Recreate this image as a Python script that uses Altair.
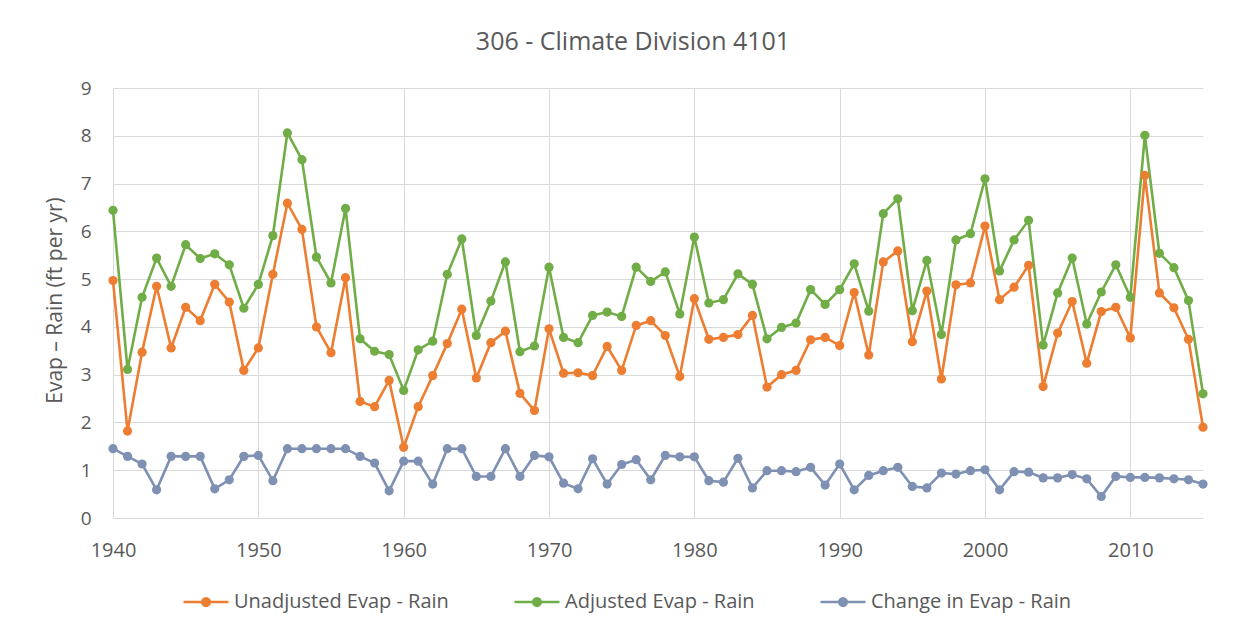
import altair as alt
import pandas as pd

years = list(range(1940, 2016))

unadjusted = [4.97, 1.82, 3.47, 4.85, 3.56, 4.41, 4.13, 4.89, 4.52, 3.09,
              3.56, 5.10, 6.59, 6.04, 4.00, 3.46, 5.03, 2.44, 2.33, 2.88,
              1.48, 2.33, 2.98, 3.65, 4.37, 2.93, 3.67, 3.91, 2.61, 2.25,
              3.96, 3.03, 3.04, 2.98, 3.59, 3.09, 4.03, 4.13, 3.82, 2.96,
              4.59, 3.74, 3.78, 3.84, 4.24, 2.74, 3.00, 3.09, 3.73, 3.78,
              3.61, 4.72, 3.41, 5.36, 5.59, 3.69, 4.75, 2.91, 4.88, 4.92,
              6.11, 4.57, 4.83, 5.29, 2.75, 3.87, 4.53, 3.24, 4.32, 4.41,
              3.77, 7.17, 4.71, 4.40, 3.74, 1.90]

adjusted = [6.44, 3.11, 4.62, 5.44, 4.85, 5.72, 5.43, 5.53, 5.30, 4.39,
            4.89, 5.91, 8.06, 7.50, 5.46, 4.92, 6.48, 3.75, 3.49, 3.42,
            2.67, 3.52, 3.70, 5.10, 5.84, 3.82, 4.54, 5.36, 3.48, 3.60,
            5.25, 3.78, 3.67, 4.24, 4.31, 4.22, 5.25, 4.95, 5.15, 4.27,
            5.88, 4.50, 4.57, 5.11, 4.89, 3.75, 3.99, 4.08, 4.78, 4.47,
            4.78, 5.32, 4.33, 6.37, 6.68, 4.34, 5.39, 3.84, 5.82, 5.95,
            7.10, 5.17, 5.82, 6.23, 3.62, 4.71, 5.44, 4.06, 4.73, 5.30,
            4.62, 8.01, 5.54, 5.24, 4.55, 2.60]

change = [1.45, 1.29, 1.13, 0.59, 1.29, 1.29, 1.29, 0.61, 0.80, 1.29,
          1.31, 0.78, 1.45, 1.45, 1.45, 1.45, 1.45, 1.29, 1.15, 0.57,
          1.19, 1.19, 0.71, 1.45, 1.45, 0.87, 0.87, 1.45, 0.87, 1.31,
          1.28, 0.73, 0.61, 1.24, 0.71, 1.12, 1.22, 0.80, 1.31, 1.28,
          1.28, 0.78, 0.75, 1.25, 0.63, 0.99, 0.99, 0.97, 1.06, 0.69,
          1.13, 0.59, 0.89, 0.99, 1.06, 0.66, 0.63, 0.94, 0.92, 0.99,
          1.01, 0.59, 0.97, 0.96, 0.84, 0.84, 0.91, 0.82, 0.45, 0.87,
          0.85, 0.85, 0.84, 0.82, 0.80, 0.71]

series_names = ["Unadjusted Evap - Rain", "Adjusted Evap - Rain", "Change in Evap - Rain"]
series_colors = ["#ED7D31", "#70AD47", "#7F91B3"]
x_ticks = [1940, 1950, 1960, 1970, 1980, 1990, 2000, 2010]
y_ticks = [0, 1, 2, 3, 4, 5, 6, 7, 8, 9]

rows = []
for name, vals in zip(series_names, [unadjusted, adjusted, change]):
    for yr, v in zip(years, vals):
        rows.append({"Year": yr, "Series": name, "Value": v})
df = pd.DataFrame(rows)

FONT = "Open Sans"
GREY = "#595959"

color_scale = alt.Scale(domain=series_names, range=series_colors)

x_enc = alt.X("Year:Q",
              scale=alt.Scale(domain=[1940, 2015], nice=False, zero=False),
              axis=alt.Axis(values=x_ticks, format="d", title=None, grid=True,
                            domain=False, ticks=False, labelPadding=22,
                            labelFontSize=20, labelColor=GREY, labelFont=FONT,
                            gridColor="#D9D9D9", labelFlush=False))
y_enc = alt.Y("Value:Q",
              scale=alt.Scale(domain=[0, 9], nice=False),
              axis=alt.Axis(values=y_ticks, title="Evap \u2013 Rain (ft per yr)",
                            domain=False, ticks=False, labelPadding=22,
                            labelFontSize=19, labelColor=GREY, labelFont=FONT,
                            titleFontSize=21, titleColor=GREY, titleFont=FONT,
                            titleFontWeight="normal",
                            titleX=-48, titleY=212, titleAngle=-90,
                            titleAlign="center", titleBaseline="bottom",
                            gridColor="#D9D9D9"))

# legend glyph: a short line with a solid dot (concentric rings fill the dot)
legend_symbol = ("M-1,0L1,0"
                 "M-0.17,0A0.17,0.17,0,1,1,0.17,0A0.17,0.17,0,1,1,-0.17,0Z"
                 "M-0.07,0A0.07,0.07,0,1,1,0.07,0A0.07,0.07,0,1,1,-0.07,0Z")

legend = alt.Legend(title=None, orient="none", direction="horizontal",
                    legendX=69, legendY=490,
                    symbolType=legend_symbol, symbolSize=2025,
                    symbolStrokeWidth=2.6,
                    labelFontSize=20, labelColor=GREY, labelFont=FONT,
                    labelLimit=500, labelOffset=4, columnPadding=60)

lines = alt.Chart(df).mark_line(strokeWidth=2.6).encode(
    x=x_enc, y=y_enc,
    color=alt.Color("Series:N", scale=color_scale, legend=legend),
    order=alt.Order("Year:Q"),
)

points = alt.Chart(df).mark_circle(size=85, opacity=1).encode(
    x=x_enc, y=y_enc,
    color=alt.Color("Series:N", scale=color_scale, legend=legend),
)

chart = (lines + points).properties(
    width=1090, height=430,
    title=alt.TitleParams("306 - Climate Division 4101", fontSize=25, color=GREY,
                          font=FONT, fontWeight="normal", offset=24, dx=-25),
    autosize=alt.AutoSizeParams(type="none"),
    padding={"left": 105, "top": 80, "right": 30, "bottom": 100},
).configure_view(stroke=None)

chart.save("out.html", embed_options={"renderer": "svg", "actions": False})
